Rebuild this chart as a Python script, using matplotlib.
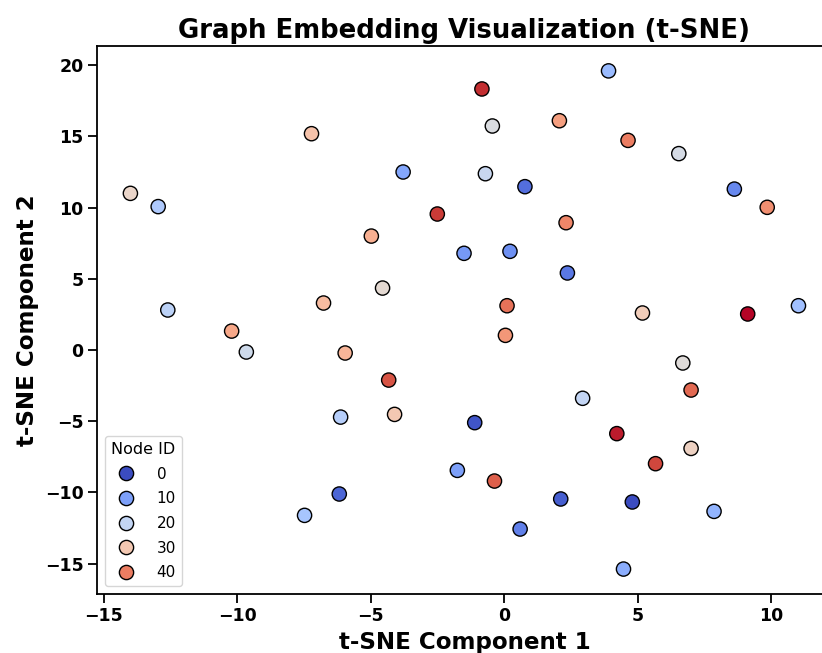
import numpy as np
import seaborn as sns
from matplotlib import pyplot as plt

# node ids 0..49 and their 2-D t-SNE coordinates
node_ids = list(range(50))
x_vals = [4.79, -1.11, 2.11, -6.18, 0.77, 2.36, 0.59, 8.61, 0.21, -1.51,
          -1.76, -3.79, 4.46, 7.85, 3.90, 11.01, -7.48, -12.96, -6.13, -12.60,
          2.93, -0.71, -9.66, 6.53, -0.45, 6.68, -4.56, -14.00, 6.99, 5.17,
          -4.11, -7.22, -6.77, -5.96, -4.98, -10.21, 2.06, 0.04, 9.84, 2.31,
          4.63, 0.10, 6.99, -0.37, -4.33, 5.66, -2.51, -0.84, 4.21, 9.11]
y_vals = [-10.67, -5.10, -10.46, -10.11, 11.47, 5.41, -12.57, 11.30, 6.93, 6.79,
          -8.45, 12.50, -15.38, -11.33, 19.60, 3.11, -11.61, 10.07, -4.71, 2.81,
          -3.39, 12.38, -0.14, 13.79, 15.73, -0.91, 4.35, 11.00, -6.91, 2.60,
          -4.52, 15.19, 3.30, -0.21, 8.00, 1.33, 16.10, 1.03, 10.02, 8.94,
          14.72, 3.11, -2.81, -9.20, -2.11, -7.98, 9.55, 18.33, -5.87, 2.53]

plt.rcParams['axes.linewidth'] = 1.3
plt.rcParams['xtick.major.size'] = 6.2
plt.rcParams['ytick.major.size'] = 6.2
plt.rcParams['xtick.major.width'] = 1.3
plt.rcParams['ytick.major.width'] = 1.3

fig = plt.figure(figsize=(8.22, 6.53), dpi=100)
ax = fig.add_axes([0.118, 0.0904, 0.894, 0.8392])

sns.scatterplot(x=x_vals, y=y_vals, hue=node_ids, palette='coolwarm',
                s=105, edgecolor='black', linewidth=1, ax=ax)

ax.set_title('Graph Embedding Visualization (t-SNE)', fontsize=18.7, fontweight='bold')
ax.set_xlabel('t-SNE Component 1', fontsize=16.6, fontweight='bold')
ax.set_ylabel('t-SNE Component 2', fontsize=16.6, fontweight='bold')
ax.set_xticks([-15, -10, -5, 0, 5, 10])
ax.set_yticks([-15, -10, -5, 0, 5, 10, 15, 20])
for lab in ax.get_xticklabels() + ax.get_yticklabels():
    lab.set_fontweight('bold')
    lab.set_fontsize(12.5)

ax.legend(title='Node ID', loc='lower left', fontsize=11, title_fontsize=11.5,
          labelspacing=0.63, handletextpad=1.0)

fig.savefig('out.png', dpi=100)
